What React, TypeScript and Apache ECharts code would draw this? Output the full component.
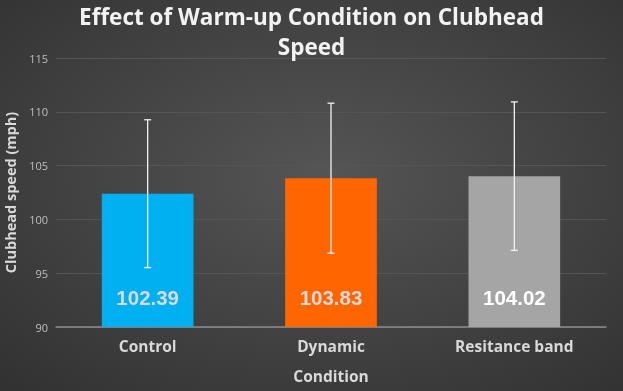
import React, { useEffect, useRef } from "react";
import * as echarts from "echarts";

const categories = ["Control", "Dynamic", "Resitance band"];
const means = [102.39, 103.83, 104.02];
const errLow = [95.52, 96.86, 97.12];
const errHigh = [109.26, 110.8, 110.92];
const barColors = ["#00B0F0", "#FF6600", "#A5A5A5"];
const labelColors = ["#D9D9D9", "#D9D9D9", "#FFFFFF"];
const yTicks = { min: 90, max: 115, interval: 5 };

const FONT = "'Open Sans', 'Noto Sans', sans-serif";

export default function App() {
  const ref = useRef<HTMLDivElement>(null);
  useEffect(() => {
    if (!ref.current) return;
    const chart = echarts.init(ref.current, undefined, { renderer: "svg" });
    chart.setOption({
      animation: false,
      backgroundColor: {
        type: "radial",
        x: 0.52,
        y: 0.45,
        r: 0.95,
        colorStops: [
          { offset: 0, color: "#555555" },
          { offset: 1, color: "#282828" },
        ],
      },
      title: {
        text: "Effect of Warm-up Condition on Clubhead\nSpeed",
        left: "center",
        top: -4,
        textStyle: {
          color: "#F2F2F2",
          fontFamily: FONT,
          fontWeight: "bold",
          fontSize: 22.5,
          lineHeight: 30,
        },
      },
      grid: { left: 56, right: 17, top: 58, bottom: 64, containLabel: false, outerBoundsMode: "none" },
      xAxis: {
        type: "category",
        data: categories,
        name: "Condition",
        nameLocation: "middle",
        nameGap: 41,
        nameTextStyle: { color: "#D9D9D9", fontFamily: FONT, fontWeight: "bold", fontSize: 15.5 },
        axisLine: { lineStyle: { color: "#8c8c8c", width: 1.5 } },
        axisTick: { show: false },
        axisLabel: { color: "#D9D9D9", fontFamily: FONT, fontWeight: "bold", fontSize: 15.5, margin: 11 },
      },
      yAxis: {
        type: "value",
        min: yTicks.min,
        max: yTicks.max,
        interval: yTicks.interval,
        name: "Clubhead speed (mph)",
        nameLocation: "middle",
        nameGap: 35,
        nameRotate: 90,
        nameTextStyle: { color: "#D9D9D9", fontFamily: FONT, fontWeight: "bold", fontSize: 14.5 },
        axisLine: { show: false },
        axisTick: { show: false },
        axisLabel: { color: "#BFBFBF", fontFamily: FONT, fontSize: 11, margin: 8 },
        splitLine: { lineStyle: { color: "#555555", width: 1 } },
      },
      series: [
        {
          type: "bar",
          barWidth: "50%",
          data: means.map((v, i) => ({
            value: v,
            itemStyle: { color: barColors[i] },
            label: { color: labelColors[i] },
          })),
          label: {
            show: true,
            position: "insideBottom",
            distance: 19,
            fontFamily: "'Liberation Sans', Arial, sans-serif",
            fontWeight: "bold",
            fontSize: 20.5,
          },
          z: 2,
        },
        {
          type: "custom",
          z: 5,
          data: categories.map((_, i) => [i, errLow[i], errHigh[i]]),
          renderItem: (params: any, api: any) => {
            const x = api.value(0);
            const lo = api.coord([x, api.value(1)]);
            const hi = api.coord([x, api.value(2)]);
            const cap = 3.5;
            const style = { stroke: "#F2F2F2", lineWidth: 1.3 };
            return {
              type: "group",
              children: [
                { type: "line", shape: { x1: lo[0], y1: lo[1], x2: hi[0], y2: hi[1] }, style },
                { type: "line", shape: { x1: hi[0] - cap, y1: hi[1], x2: hi[0] + cap, y2: hi[1] }, style },
                { type: "line", shape: { x1: lo[0] - cap, y1: lo[1], x2: lo[0] + cap, y2: lo[1] }, style },
              ],
            };
          },
        },
      ],
    });
    return () => chart.dispose();
  }, []);
  return <div ref={ref} style={{ width: 623, height: 391, position: "fixed", left: 0, top: 0 }} />;
}
